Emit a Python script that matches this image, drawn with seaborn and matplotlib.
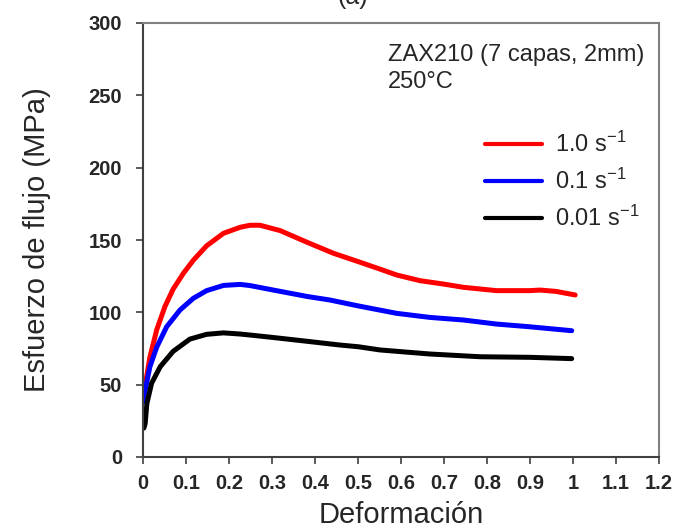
import numpy as np
import pandas as pd
import matplotlib
matplotlib.use("Agg")
import matplotlib.pyplot as plt
import seaborn as sns
from matplotlib.lines import Line2D

# Data
strain_10 = [0.0, 0.007, 0.016, 0.032, 0.051, 0.07, 0.094, 0.117, 0.148, 0.187, 0.226, 0.249,
             0.272, 0.319, 0.381, 0.443, 0.501, 0.55, 0.59, 0.644, 0.70, 0.745, 0.822, 0.9,
             0.923, 0.96, 1.005]
stress_10 = [50, 53, 69, 88, 104, 116, 127, 136, 146, 154.6, 158.8, 160.2,
             160.2, 156.5, 148.5, 140.8, 135, 130, 125.8, 121.9, 119.5, 117.3, 115, 115,
             115.4, 114.5, 112]

strain_01 = [0.0, 0.002, 0.016, 0.032, 0.055, 0.086, 0.117, 0.148, 0.187, 0.226, 0.249,
             0.303, 0.381, 0.435, 0.501, 0.59, 0.667, 0.745, 0.822, 0.9, 0.997]
stress_01 = [38, 41.7, 62.4, 76, 90, 101.6, 109.7, 115, 118.6, 119.3, 118.5,
             115.4, 111, 108.5, 104.4, 99.3, 96.5, 94.7, 91.9, 90, 87.3]

strain_001 = [0.002, 0.005, 0.009, 0.02, 0.04, 0.07, 0.109, 0.148, 0.187, 0.226, 0.249,
              0.303, 0.381, 0.458, 0.501, 0.551, 0.667, 0.784, 0.9, 0.997]
stress_001 = [20, 23, 37, 51, 62.4, 73, 81.5, 84.8, 85.8, 85, 84.3,
              82.6, 80, 77.4, 76.2, 74, 71.2, 69.3, 68.9, 68]

labels = ["1.0 s$^{-1}$", "0.1 s$^{-1}$", "0.01 s$^{-1}$"]
colors = ["#ff0000", "#0000ff", "#000000"]
xticks = [0, 0.1, 0.2, 0.3, 0.4, 0.5, 0.6, 0.7, 0.8, 0.9, 1, 1.1, 1.2]
xticklabels = ["0", "0.1", "0.2", "0.3", "0.4", "0.5", "0.6", "0.7", "0.8", "0.9", "1", "1.1", "1.2"]
yticks = [0, 50, 100, 150, 200, 250, 300]

df = pd.concat([
    pd.DataFrame({"strain": strain_10, "stress": stress_10, "rate": labels[0]}),
    pd.DataFrame({"strain": strain_01, "stress": stress_01, "rate": labels[1]}),
    pd.DataFrame({"strain": strain_001, "stress": stress_001, "rate": labels[2]}),
], ignore_index=True)

sns.set_style("white")
plt.rcParams["font.family"] = ["Liberation Sans", "DejaVu Sans"]
plt.rcParams["mathtext.fontset"] = "custom"
plt.rcParams["mathtext.rm"] = "Liberation Sans"
plt.rcParams["mathtext.it"] = "Liberation Sans:italic"

fig = plt.figure(figsize=(6.78, 5.31), dpi=100)
ax = fig.add_axes([143/678, 1 - 457/531, (659-143)/678, (457-23)/531])

sns.lineplot(data=df, x="strain", y="stress", hue="rate", palette=colors,
             hue_order=labels, sort=False, linewidth=3.6, ax=ax, legend=False)
for ln in ax.get_lines():
    ln.set_solid_joinstyle("round")
    ln.set_solid_capstyle("round")

ax.set_xlim(0, 1.2)
ax.set_ylim(0, 300)
ax.set_xticks(xticks)
ax.set_xticklabels(xticklabels)
ax.set_yticks(yticks)
for lab in ax.get_xticklabels() + ax.get_yticklabels():
    lab.set_fontweight("bold")
    lab.set_fontsize(14.5)
ax.tick_params(axis="both", direction="out", length=5, width=1.2, color="#404040",
               bottom=True, left=True)
ax.tick_params(axis="x", pad=7)
ax.tick_params(axis="y", pad=10)

for side in ["top", "right"]:
    ax.spines[side].set_color("#808080")
    ax.spines[side].set_linewidth(1.5)
for side in ["left", "bottom"]:
    ax.spines[side].set_color("#404040")
    ax.spines[side].set_linewidth(1.5)

ax.set_xlabel("Deformación", fontsize=21, labelpad=6)
ax.set_ylabel("Esfuerzo de flujo (MPa)", fontsize=21, labelpad=27)

ax.text((388-143)/516, (457-44)/434, "ZAX210 (7 capas, 2mm)\n250°C", transform=ax.transAxes,
        fontsize=17, va="top", ha="left", linespacing=1.32)

handles = [Line2D([], [], color=c, linewidth=3.0) for c in colors]
ax.legend(handles, labels, loc="upper left", bbox_to_anchor=((471-143)/516, (457-118)/434),
          frameon=False, fontsize=17, handlelength=2.4, handletextpad=0.55,
          labelspacing=0.5, borderaxespad=0.2)

fig.text(0.52, 1 - 4/531, "(a)", fontsize=18, ha="center", va="baseline")

fig.savefig("out.png", dpi=100)
